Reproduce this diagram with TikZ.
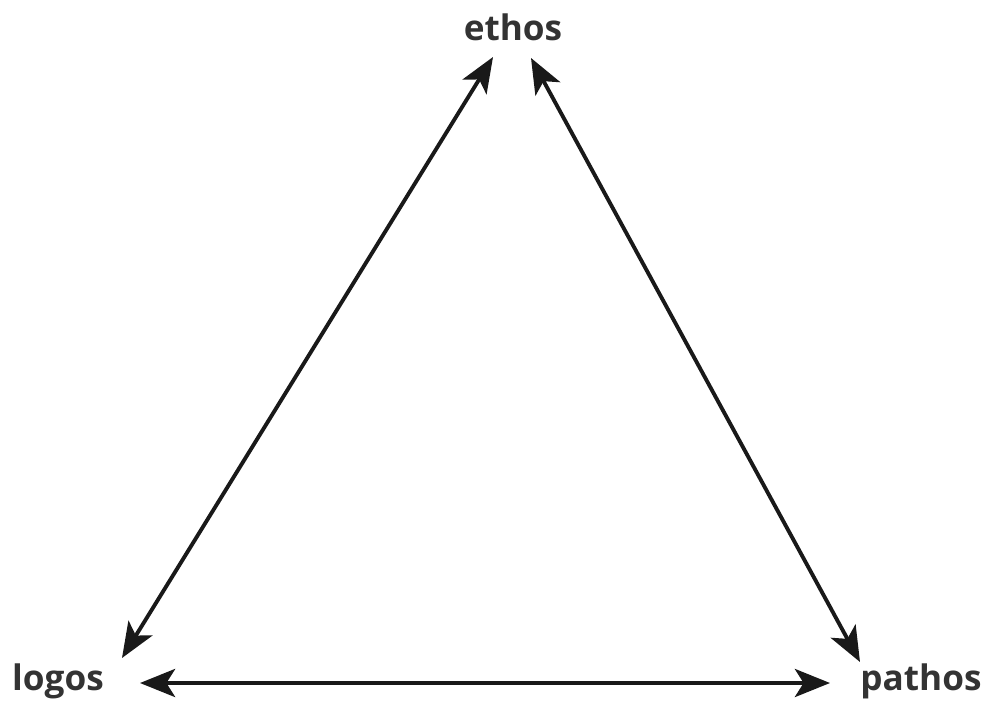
\documentclass[tikz,border=0pt]{standalone}
\usepackage{fontspec}
\setmainfont{Open Sans}
\usetikzlibrary{arrows.meta}

\begin{document}
\begin{tikzpicture}[x=0.01cm, y=-0.01cm,
    label/.style={font=\fontsize{10}{12}\selectfont\bfseries, text=black!80, anchor=base, inner sep=0pt},
    link/.style={line width=1.1pt, black!90, {Stealth[length=10pt,width=8pt,inset=2.5pt]}-{Stealth[length=10pt,width=8pt,inset=2.5pt]}}]
    \useasboundingbox (0,0) rectangle (988,709);

    \node[label] (ethos) at (513,40) {ethos};
    \node[label] (logos) at (58,690) {logos};
    \node[label] (pathos) at (921,690) {pathos};

    \coordinate (EL) at (493,57);
    \coordinate (ER) at (531,58);
    \coordinate (LE) at (122,658);
    \coordinate (LP) at (140,683);
    \coordinate (PL) at (830,683);
    \coordinate (PE) at (860,662);

    \draw[link] (EL) -- (LE);
    \draw[link] (ER) -- (PE);
    \draw[link] (LP) -- (PL);
\end{tikzpicture}
\end{document}
